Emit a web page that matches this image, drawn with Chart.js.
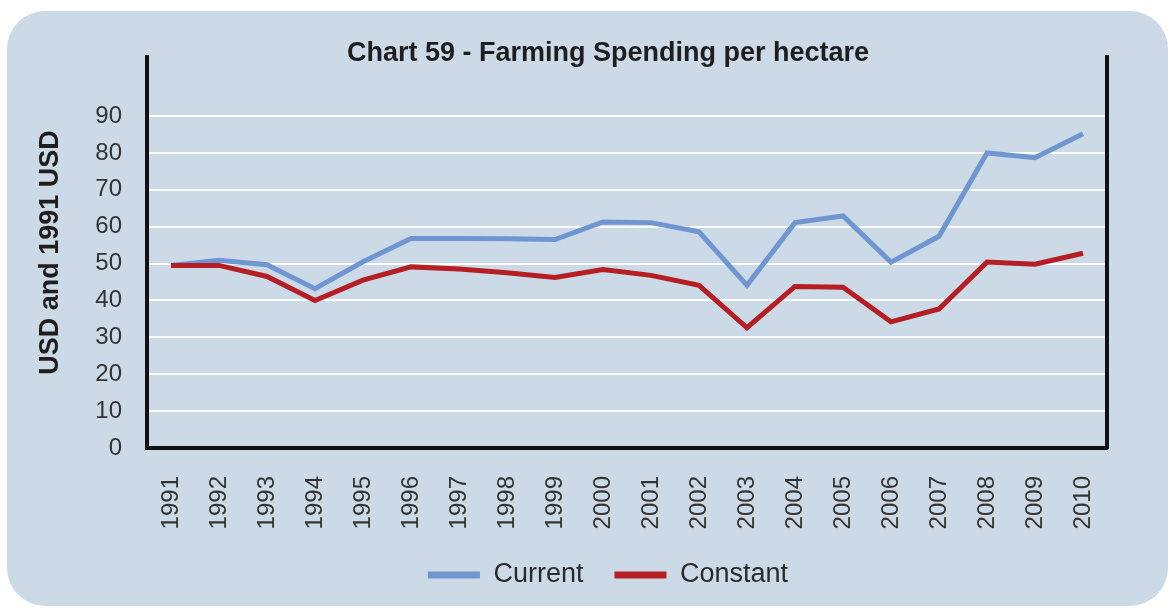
<!DOCTYPE html>
<html>
<head>
<meta charset="utf-8">
<script src="https://cdn.jsdelivr.net/npm/chart.js@4.4.1/dist/chart.umd.min.js"></script>
<style>
  html, body { margin: 0; padding: 0; background: #ffffff; }
  #wrap { width: 1174px; height: 613px; position: relative; }
</style>
</head>
<body>
<div id="wrap"><canvas id="c"></canvas></div>
<script>
// ---- data ----
const years = ['1991','1992','1993','1994','1995','1996','1997','1998','1999','2000',
               '2001','2002','2003','2004','2005','2006','2007','2008','2009','2010'];
const currentValues  = [49.5, 50.9, 49.7, 43.2, 50.5, 56.8, 56.8, 56.7, 56.5, 61.3,
                        61.1, 58.6, 44.1, 61.1, 62.9, 50.4, 57.4, 80.0, 78.7, 85.2];
const constantValues = [49.5, 49.5, 46.5, 40.0, 45.5, 49.1, 48.5, 47.5, 46.2, 48.4,
                        46.8, 44.1, 32.6, 43.8, 43.6, 34.2, 37.7, 50.4, 49.8, 52.8];
const yTickValues = [0, 10, 20, 30, 40, 50, 60, 70, 80, 90];
const seriesNames = ['Current', 'Constant'];
const chartTitle = 'Chart 59 - Farming Spending per hectare';
const yAxisTitle = 'USD and 1991 USD';

const FONT = "'Liberation Sans', Arial, sans-serif";
Chart.defaults.font.family = FONT;

const panelBg = {
  id: 'panelBg',
  beforeDraw(chart) {
    const ctx = chart.ctx;
    ctx.save();
    ctx.fillStyle = '#ffffff';
    ctx.fillRect(0, 0, chart.width, chart.height);
    ctx.beginPath();
    ctx.roundRect(7, 11, 1161, 595, 38);
    ctx.fillStyle = '#ccdae8';
    ctx.fill();
    ctx.restore();
  }
};

new Chart(document.getElementById('c'), {
  type: 'line',
  data: {
    labels: years,
    datasets: [
      { label: seriesNames[0], data: currentValues, borderColor: '#7096d1', backgroundColor: '#7096d1',
        borderWidth: 5, pointRadius: 0, tension: 0, order: 1 },
      { label: seriesNames[1], data: constantValues, borderColor: '#b51f24', backgroundColor: '#b51f24',
        borderWidth: 5, pointRadius: 0, tension: 0, order: 0 }
    ]
  },
  options: {
    responsive: true,
    maintainAspectRatio: false,
    animation: false,
    layout: { padding: { left: 42, right: 0, top: 0, bottom: 14.5 } },
    plugins: {
      title: {
        display: true, text: chartTitle, color: '#1e1e1e',
        font: { size: 27, weight: 'bold', family: FONT },
        padding: { top: 37.5, bottom: -12.9 }
      },
      legend: {
        position: 'bottom',
        labels: {
          boxWidth: 52, boxHeight: 7, padding: 31, color: '#2a2a2a',
          font: { size: 27, family: FONT },
          sort: (a, b) => a.datasetIndex - b.datasetIndex,
          generateLabels(chart) {
            const items = Chart.defaults.plugins.legend.labels.generateLabels(chart);
            items.forEach(it => { it.fillStyle = it.strokeStyle; it.lineWidth = 0; });
            return items;
          }
        }
      },
      tooltip: { enabled: false }
    },
    scales: {
      x: {
        offset: true,
        grid: { display: false, drawTicks: false },
        border: { display: true, color: '#111111', width: 4 },
        ticks: { autoSkip: false, minRotation: 90, maxRotation: 90, padding: 28,
                 color: '#333333', font: { size: 24, family: FONT } },
        afterFit(s) { s.height = 82.5; }
      },
      y: {
        min: 0, max: 106,
        afterBuildTicks(s) { s.ticks = yTickValues.map(v => ({ value: v })); },
        grid: { color: '#ffffff', lineWidth: 2, drawTicks: false },
        border: { display: true, color: '#111111', width: 4 },
        ticks: { padding: 25, color: '#333333', font: { size: 24, family: FONT } },
        title: { display: true, text: yAxisTitle, color: '#1e1e1e',
                 font: { size: 27, weight: 'bold', family: FONT }, padding: { top: -8, bottom: 0 } },
        afterFit(s) { s.width = 105; }
      },
      y2: {
        position: 'right', min: 0, max: 106,
        grid: { display: false, drawTicks: false },
        border: { display: true, color: '#111111', width: 4 },
        ticks: { display: false },
        afterFit(s) { s.width = 67; }
      }
    }
  },
  plugins: [panelBg]
});
</script>
</body>
</html>
